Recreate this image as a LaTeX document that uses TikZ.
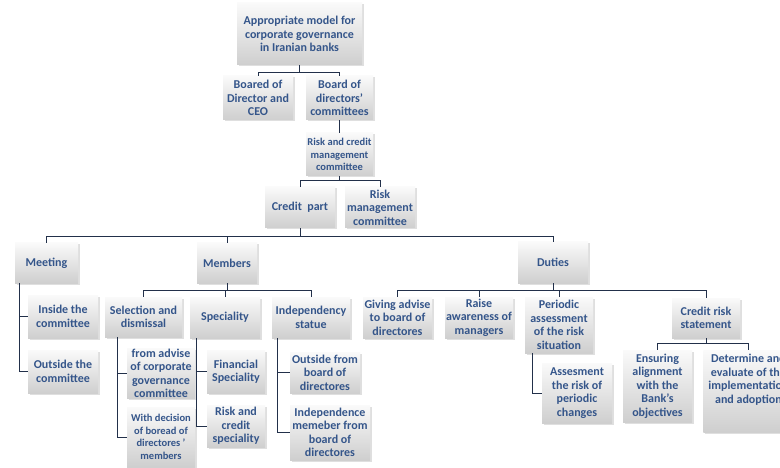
\documentclass[tikz,border=0pt]{standalone}
\usepackage{fontspec}
\setmainfont{Carlito}
\usepackage{tikz}
\usetikzlibrary{shadows}
\definecolor{boxtext}{HTML}{34558A}
\definecolor{linecol}{HTML}{22304A}

\begin{document}
\begin{tikzpicture}[x=1pt,y=-1pt,thick,
  box node/.style={draw=none,top color=gray!4,bottom color=gray!38,
    drop shadow={opacity=0.25,shadow xshift=1.5pt,shadow yshift=-1.5pt},
    align=center,inner sep=0.5pt,text=boxtext,
    font=\fontsize{12}{13.5}\selectfont\bfseries}]
\tikzstyle{link} = [draw=linecol,line width=0.8pt]

\useasboundingbox (0,0) rectangle (780,468);
\clip (0,0) rectangle (780,468);

% Top part
\node[box node,minimum width=125,minimum height=62] (root) at (299.5,34) {Appropriate model for\\corporate governance\\in Iranian banks};
\node[box node,minimum width=70,minimum height=44] (ceo) at (258,98) {Boared of\\Director and\\CEO};
\node[box node,minimum width=67,minimum height=44] (bdc) at (339.5,98) {Board of\\directors'\\committees};
\node[box node,minimum width=67,minimum height=43,font=\fontsize{10.5}{12.5}\selectfont\bfseries] (rcm) at (339.5,154.5) {Risk and credit\\management\\committee};
\node[box node,minimum width=70,minimum height=41] (credit) at (300,207.5) {Credit~~part};
\node[box node,minimum width=70,minimum height=41] (riskm) at (380,207.5) {Risk\\management\\committee};

% Second level
\node[box node,minimum width=63,minimum height=40] (meeting) at (46.5,263) {Meeting};
\node[box node,minimum width=60,minimum height=40] (members) at (227,263) {Members};
\node[box node,minimum width=70,minimum height=41] (duties) at (553,262.5) {Duties};

% Meeting
\node[box node,minimum width=70,minimum height=43] (inside) at (63,316.5) {Inside the\\committee};
\node[box node,minimum width=70,minimum height=43] (outside) at (63,371.5) {Outside the\\committee};

% Members
\node[box node,minimum width=77,minimum height=40] (sel) at (143.5,317) {Selection and\\dismissal};
\node[box node,minimum width=70,minimum height=41] (spec) at (225,317.5) {Speciality};
\node[box node,minimum width=78,minimum height=41] (indep) at (311,317.5) {Independency\\statue};
\node[box node,minimum width=68,minimum height=47] (advise) at (161,373.5) {from advise\\of corporate\\governance\\committee};
\node[box node,minimum width=68,minimum height=60,font=\fontsize{10.5}{12.5}\selectfont\bfseries] (decision) at (161,437) {With decision\\of boread of\\directores '\\members};
\node[box node,minimum width=58,minimum height=43] (fin) at (236,371.5) {Financial\\Speciality};
\node[box node,minimum width=58,minimum height=42] (rcs) at (236,426) {Risk and\\credit\\speciality};
\node[box node,minimum width=70,minimum height=41] (outb) at (325,372.5) {Outside from\\board of\\directores};
\node[box node,minimum width=80,minimum height=55] (indm) at (330,432.5) {Independence\\memeber from\\board of\\directores};

% Duties
\node[box node,minimum width=69,minimum height=41] (giving) at (397.5,317.5) {Giving advise\\to board of\\directores};
\node[box node,minimum width=68,minimum height=41] (raise) at (479,317.5) {Raise\\awareness of\\managers};
\node[box node,minimum width=68,minimum height=56] (periodic) at (559,325) {Periodic\\assessment\\of the risk\\situation};
\node[box node,minimum width=68,minimum height=40] (credrisk) at (706,318) {Credit risk\\statement};
\node[box node,minimum width=70,minimum height=60] (assess) at (577,393) {Assesment\\the risk of\\periodic\\changes};
\node[box node,minimum width=69,minimum height=72] (ensure) at (657.5,386) {Ensuring\\alignment\\with the\\Bank's\\objectives};
\node[box node,minimum width=90,minimum height=82,anchor=north west] (determine) at (703,350) {Determine and\\evaluate of the\\implementation\\and adoption\\[12pt]};

% Connectors
\draw[link] (root.south) -- ++(0,7) -| (ceo.north);
\draw[link] (root.south) -- ++(0,7) -| (bdc.north);
\draw[link] (bdc.south) -- (rcm.north);
\draw[link] (rcm.south) -- ++(0,4) -| (credit.north);
\draw[link] (rcm.south) -- ++(0,4) -| (riskm.north);
\draw[link] (credit.south) -- ++(0,8) -| (meeting.north);
\draw[link] (credit.south) -- ++(0,8) -| (members.north);
\draw[link] (credit.south) -- ++(0,8) -| (duties.north);

\draw[link] ([xshift=5pt]meeting.south west) |- (inside.west);
\draw[link] ([xshift=5pt]meeting.south west) |- (outside.west);

\draw[link] (members.south) -- ++(0,7) -| (sel.north);
\draw[link] (members.south) -- ++(0,7) -| (spec.north);
\draw[link] (members.south) -- ++(0,7) -| (indep.north);
\draw[link] ([xshift=13pt]sel.south west) |- (advise.west);
\draw[link] ([xshift=13pt]sel.south west) |- (decision.west);
\draw[link] ([xshift=7pt]spec.south west) |- (fin.west);
\draw[link] ([xshift=7pt]spec.south west) |- (rcs.west);
\draw[link] ([xshift=6pt]indep.south west) |- (outb.west);
\draw[link] ([xshift=6pt]indep.south west) |- (indm.west);

\draw[link] (duties.south) -- ++(0,7) -| (giving.north);
\draw[link] (duties.south) -- ++(0,7) -| (raise.north);
\draw[link] (duties.south) -- ++(0,7) -| (periodic.north);
\draw[link] (duties.south) -- ++(0,7) -| (credrisk.north);
\draw[link] ([xshift=8pt]periodic.south west) |- (assess.west);
\draw[link] (credrisk.south) -- ++(0,5) -| (ensure.north);
\draw[link] (credrisk.south) -- ++(0,5) -| (determine.north);
\end{tikzpicture}
\end{document}
